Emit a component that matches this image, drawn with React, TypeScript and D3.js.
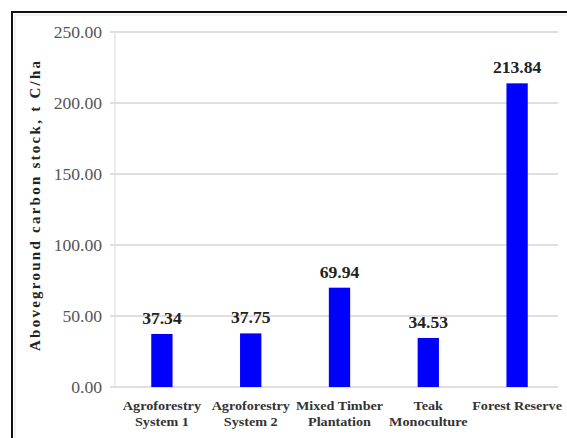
import React from "react";
import * as d3 from "d3";

const categories: string[][] = [
  ["Agroforestry", "System 1"],
  ["Agroforestry", "System 2"],
  ["Mixed Timber", "Plantation"],
  ["Teak", "Monoculture"],
  ["Forest Reserve"],
];
const carbonStock: number[] = [37.34, 37.75, 69.94, 34.53, 213.84];
const yTicks: number[] = [0, 50, 100, 150, 200, 250];
const yTitle = "Aboveground  carbon stock, t C/ha";

const W = 567;
const H = 438;
const FONT = "Liberation Serif, Tinos, Times New Roman, serif";
// text is set slightly wide
const SX = 1.1;

export default function App() {
  const keys = categories.map((c) => c.join(" "));
  const x = d3
    .scaleBand<string>()
    .domain(keys)
    .range([117.5, 561.5])
    .paddingInner(0.76)
    .paddingOuter(0.38);
  const y = d3.scaleLinear().domain([0, 250]).range([387, 32]);
  const gridX0 = 110;
  const gridX1 = 558;
  const axisX = 115;
  const cx = (i: number) => x(keys[i])! + x.bandwidth() / 2;

  return (
    <svg
      width={W}
      height={H}
      viewBox={`0 0 ${W} ${H}`}
      style={{ position: "absolute", left: 0, top: 0, background: "#fff" }}
    >
      <rect x={0} y={0} width={W} height={H} fill="#fff" />
      {/* outer frame */}
      <rect x={12} y={12} width={W + 20} height={H + 20} fill="none" stroke="#111" strokeWidth={2} />
      <rect x={15} y={15} width={W + 20} height={H + 20} fill="none" stroke="#e6e6e6" strokeWidth={1} />

      {/* gridlines and y tick labels */}
      {yTicks.map((t) => (
        <g key={t}>
          <line
            x1={gridX0}
            x2={gridX1}
            y1={y(t)}
            y2={y(t)}
            stroke="#d4d4d4"
            strokeWidth={1.3}
          />
          <text
            transform={`translate(102, ${y(t)}) scale(${SX}, 1)`}
            dy="0.35em"
            textAnchor="end"
            fontFamily={FONT}
            fontSize={16}
            fill="#555"
          >
            {t.toFixed(2)}
          </text>
        </g>
      ))}
      <line x1={axisX} x2={axisX} y1={y(250)} y2={y(0)} stroke="#d9d9d9" strokeWidth={1} />

      {/* bars */}
      {carbonStock.map((v, i) => (
        <rect
          key={keys[i]}
          x={x(keys[i])!}
          y={y(v)}
          width={x.bandwidth()}
          height={y(0) - y(v)}
          fill="#0000ff"
        />
      ))}

      {/* value labels */}
      {carbonStock.map((v, i) => (
        <text
          key={"v" + i}
          transform={`translate(${cx(i)}, ${y(v) - 10}) scale(${SX}, 1)`}
          textAnchor="middle"
          fontFamily={FONT}
          fontWeight="bold"
          fontSize={16}
          fill="#222"
        >
          {v.toFixed(2)}
        </text>
      ))}

      {/* category labels */}
      {categories.map((lines, i) => (
        <text
          key={"c" + i}
          transform={`translate(${cx(i)}, 410) scale(1.05, 1)`}
          textAnchor="middle"
          fontFamily={FONT}
          fontWeight="bold"
          fontSize={13.5}
          fill="#333"
        >
          {lines.map((l, j) => (
            <tspan key={j} x={0} dy={j === 0 ? 0 : 16}>
              {l}
            </tspan>
          ))}
        </text>
      ))}

      {/* y axis title */}
      <text
        transform={`translate(40, 206) rotate(-90)`}
        textAnchor="middle"
        fontFamily={FONT}
        fontWeight="bold"
        fontSize={15}
        fill="#222"
        textLength={290}
        lengthAdjust="spacing"
      >
        {yTitle}
      </text>
    </svg>
  );
}
